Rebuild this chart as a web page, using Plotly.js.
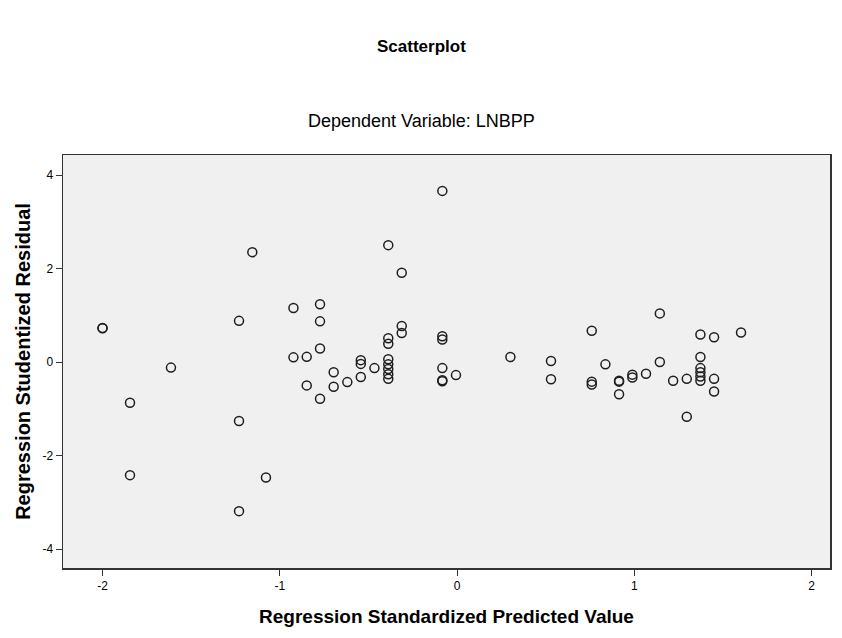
<!DOCTYPE html>
<html>
<head>
<meta charset="utf-8">
<script src="https://cdn.plot.ly/plotly-3.0.1.min.js"></script>
<style>html,body{margin:0;padding:0;background:#fff;}#chart{width:842px;height:638px;}</style>
</head>
<body>
<div id="chart"></div>
<script>
// Regression Standardized Predicted Value
const predicted = [
  -2.0, -2.0, -1.845, -1.845, -1.614, -1.23, -1.23, -1.23, -1.155, -1.078,
  -0.923, -0.923, -0.848, -0.848, -0.773, -0.773, -0.773, -0.773, -0.696, -0.696,
  -0.619, -0.543, -0.543, -0.543, -0.466, -0.388, -0.388, -0.388, -0.388, -0.388,
  -0.388, -0.388, -0.388, -0.312, -0.312, -0.312, -0.083, -0.083, -0.083, -0.083,
  -0.083, -0.083, -0.006, 0.301, 0.530, 0.530, 0.760, 0.760, 0.760, 0.837,
  0.914, 0.914, 0.914, 0.989, 0.989, 1.066, 1.144, 1.144, 1.219, 1.296,
  1.296, 1.373, 1.373, 1.373, 1.373, 1.373, 1.373, 1.450, 1.450, 1.450,
  1.602
];
// Regression Studentized Residual
const residual = [
  0.73, 0.72, -0.87, -2.42, -0.12, 0.88, -1.26, -3.19, 2.35, -2.47,
  1.155, 0.10, 0.11, -0.50, 1.234, 0.87, 0.29, -0.785, -0.22, -0.53,
  -0.43, 0.04, -0.04, -0.32, -0.13, 2.50, 0.51, 0.39, 0.06, -0.05,
  -0.15, -0.26, -0.36, 1.91, 0.77, 0.62, 3.66, 0.55, 0.48, -0.13,
  -0.39, -0.41, -0.28, 0.107, 0.02, -0.37, 0.67, -0.42, -0.48, -0.05,
  -0.40, -0.42, -0.69, -0.27, -0.33, -0.25, 1.04, 0.0, -0.40, -0.36,
  -1.17, 0.59, 0.107, -0.13, -0.22, -0.31, -0.40, 0.53, -0.36, -0.63,
  0.63
];
const xTicks = [-2, -1, 0, 1, 2];
const yTicks = [-4, -2, 0, 2, 4];

const FONT = 'Liberation Sans, Arial, sans-serif';

const trace = {
  type: 'scatter',
  mode: 'markers',
  x: predicted,
  y: residual,
  marker: {symbol: 'circle-open', size: 9, color: '#1e1e1e', line: {width: 1.5}},
  hoverinfo: 'x+y'
};

const TITLE_X = (421 - 63) / 767;

const layout = {
  width: 842, height: 638,
  margin: {l: 63, r: 12, t: 155, b: 70},
  paper_bgcolor: '#ffffff',
  plot_bgcolor: '#f0f0f0',
  showlegend: false,
  font: {family: FONT, color: '#000', size: 12},
  xaxis: {
    range: [-2.223, 2.104],
    tickmode: 'array', tickvals: xTicks, ticktext: xTicks.map(String),
    ticks: 'outside', ticklen: 6, tickwidth: 1, tickcolor: '#333',
    showgrid: false, zeroline: false,
    showline: true, linecolor: '#333', linewidth: 1.5, mirror: true,
    tickfont: {family: FONT, size: 12, color: '#000'},
    title: {text: '<b>Regression Standardized Predicted Value</b>', font: {family: FONT, size: 19, color: '#000'}, standoff: 18}
  },
  yaxis: {
    range: [-4.406, 4.428],
    tickmode: 'array', tickvals: yTicks, ticktext: yTicks.map(String),
    ticks: 'outside', ticklen: 6, tickwidth: 1, tickcolor: '#333',
    showgrid: false, zeroline: false,
    showline: true, linecolor: '#333', linewidth: 1.5, mirror: true,
    tickfont: {family: FONT, size: 12, color: '#000'},
    title: {text: '<b>Regression Studentized Residual</b>', font: {family: FONT, size: 20, color: '#000'}, standoff: 6}
  },
  annotations: [
    {text: '<b>Scatterplot</b>', xref: 'paper', yref: 'paper', x: TITLE_X, y: 1 + (155 - 46) / 413,
     xanchor: 'center', yanchor: 'middle', showarrow: false, font: {family: FONT, size: 17, color: '#000'}},
    {text: 'Dependent Variable: LNBPP', xref: 'paper', yref: 'paper', x: TITLE_X, y: 1 + (155 - 121) / 413,
     xanchor: 'center', yanchor: 'middle', showarrow: false, font: {family: FONT, size: 18, color: '#000'}}
  ]
};

Plotly.newPlot('chart', [trace], layout, {displayModeBar: false, staticPlot: true});
</script>
</body>
</html>
